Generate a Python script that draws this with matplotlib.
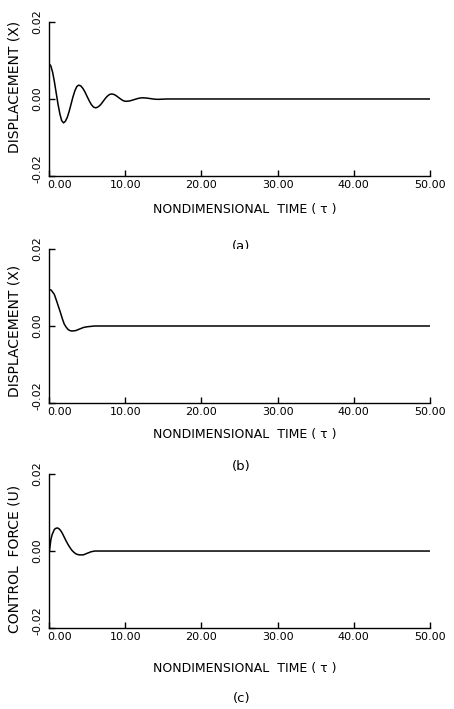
import numpy as np
import matplotlib
matplotlib.use('Agg')
import matplotlib.pyplot as plt
from matplotlib.transforms import ScaledTranslation

plt.rcParams['font.family'] = ['DejaVu Sans']

# (a) displacement
t_a = [0.0, 0.24, 0.48, 0.71, 0.95, 1.19, 1.43, 1.66, 1.9,
       2.15, 2.4, 2.65, 2.9, 3.15, 3.4, 3.65, 3.9,
       4.18, 4.45, 4.73, 5.0, 5.28, 5.55, 5.83, 6.1,
       6.36, 6.63, 6.89, 7.15, 7.41, 7.68, 7.94, 8.2,
       8.44, 8.68, 8.91, 9.15, 9.39, 9.63, 9.86, 10.1,
       10.38, 10.65, 10.93, 11.2, 11.48, 11.75, 12.03, 12.3,
       12.8, 13.3, 13.8, 14.3, 15.5, 50.0]
x_a = [0.0092, 0.0086, 0.0069, 0.00445, 0.0015, -0.00145, -0.0039, -0.0056, -0.0062,
       -0.0058, -0.00476, -0.0032, -0.0013, 0.00058, 0.00216, 0.00323, 0.0036,
       0.00338, 0.00274, 0.00178, 0.00065, -0.00048, -0.00144, -0.00208, -0.0023,
       -0.00216, -0.00177, -0.00119, -0.0005, 0.00019, 0.00077, 0.00116, 0.0013,
       0.00123, 0.00102, 0.00071, 0.00035, 0.0, -0.00032, -0.00053, -0.0006,
       -0.00057, -0.00047, -0.00032, -0.00015, 0.00002, 0.00017, 0.00027, 0.0003,
       0.00024, 0.0001, -0.00004, -0.0001, 0.0, 0.0]

# (b) displacement, controlled
t_b = [0.0, 0.3, 0.7, 1.0, 1.25, 1.5, 1.75, 2.0, 2.25, 2.5, 2.75, 3.0, 3.5,
       4.0, 4.5, 5.0, 6.0, 50.0]
x_b = [0.0095, 0.0093, 0.0082, 0.0065, 0.0050, 0.0035, 0.0019, 0.0005,
       -0.0003, -0.0009, -0.0012, -0.0013, -0.0012, -0.0008, -0.0004,
       -0.0002, 0.0, 0.0]

# (c) control force
t_c = [0.0, 0.15, 0.25, 0.4, 0.7, 0.9, 1.1, 1.3, 1.5, 1.75, 2.0, 2.25, 2.5,
       2.75, 3.0, 3.25, 3.5, 3.75, 4.0, 4.5, 5.0, 5.5, 6.0, 50.0]
u_c = [-0.0008, 0.0015, 0.0030, 0.0042, 0.0056, 0.0059, 0.0060, 0.0058,
       0.0054, 0.0046, 0.0036, 0.0026, 0.0017, 0.0009, 0.0002, -0.0003,
       -0.0007, -0.0009, -0.0010, -0.0010, -0.0006, -0.0002, 0.0, 0.0]

x_ticks = [0, 10, 20, 30, 40, 50]
y_ticks = [-0.02, 0.0, 0.02]

# data, y label, caption, axes bottom, ylabel y, xlabel y, caption y
panels = [
    (t_a, x_a, 'DISPLACEMENT (X)', '(a)', 0.7518, 0.58, -0.175, -0.46),
    (t_b, x_b, 'DISPLACEMENT (X)', '(b)', 0.4316, 0.47, -0.162, -0.415),
    (t_c, u_c, 'CONTROL  FORCE (U)', '(c)', 0.1142, 0.45, -0.22, -0.455),
]

fig = plt.figure(figsize=(4.54, 7.09), dpi=100)

for t, y, ylab, cap, bottom, ylab_y, xlab_y, cap_y in panels:
    ax = fig.add_axes([49 / 454, bottom, 381 / 454, 154 / 709])
    ax.plot(t, y, color='black', lw=1.1)
    ax.set_xlim(0, 50)
    ax.set_ylim(-0.02, 0.02)
    ax.spines['top'].set_visible(False)
    ax.spines['right'].set_visible(False)
    ax.spines['left'].set_linewidth(1.0)
    ax.spines['bottom'].set_linewidth(1.0)
    ax.set_xticks(x_ticks)
    ax.set_xticklabels(['%.2f' % v for v in x_ticks], fontsize=8)
    ax.set_yticks(y_ticks)
    ax.set_yticklabels(['%.2f' % v for v in y_ticks], fontsize=8,
                       rotation=90, va='center')
    ax.tick_params(direction='in', length=4, width=1.0, pad=3)
    ax.tick_params(axis='y', pad=5)

    # first x label sits right of the axis corner, -0.02 label a bit raised
    xl0 = ax.get_xticklabels()[0]
    xl0.set_ha('left')
    xl0.set_transform(xl0.get_transform() + ScaledTranslation(-0.02, 0, fig.dpi_scale_trans))
    yl0 = ax.get_yticklabels()[0]
    yl0.set_transform(yl0.get_transform() + ScaledTranslation(0, 0.07, fig.dpi_scale_trans))

    ax.set_xlabel('NONDIMENSIONAL  TIME ( τ )', fontsize=9)
    ax.xaxis.set_label_coords(0.515, xlab_y)
    ax.set_ylabel(ylab, fontsize=10)
    ax.yaxis.set_label_coords(-0.071, ylab_y)
    ax.text(0.505, cap_y, cap, transform=ax.transAxes, ha='center',
            va='center', fontsize=9.5)

fig.savefig('out.png', dpi=100)
